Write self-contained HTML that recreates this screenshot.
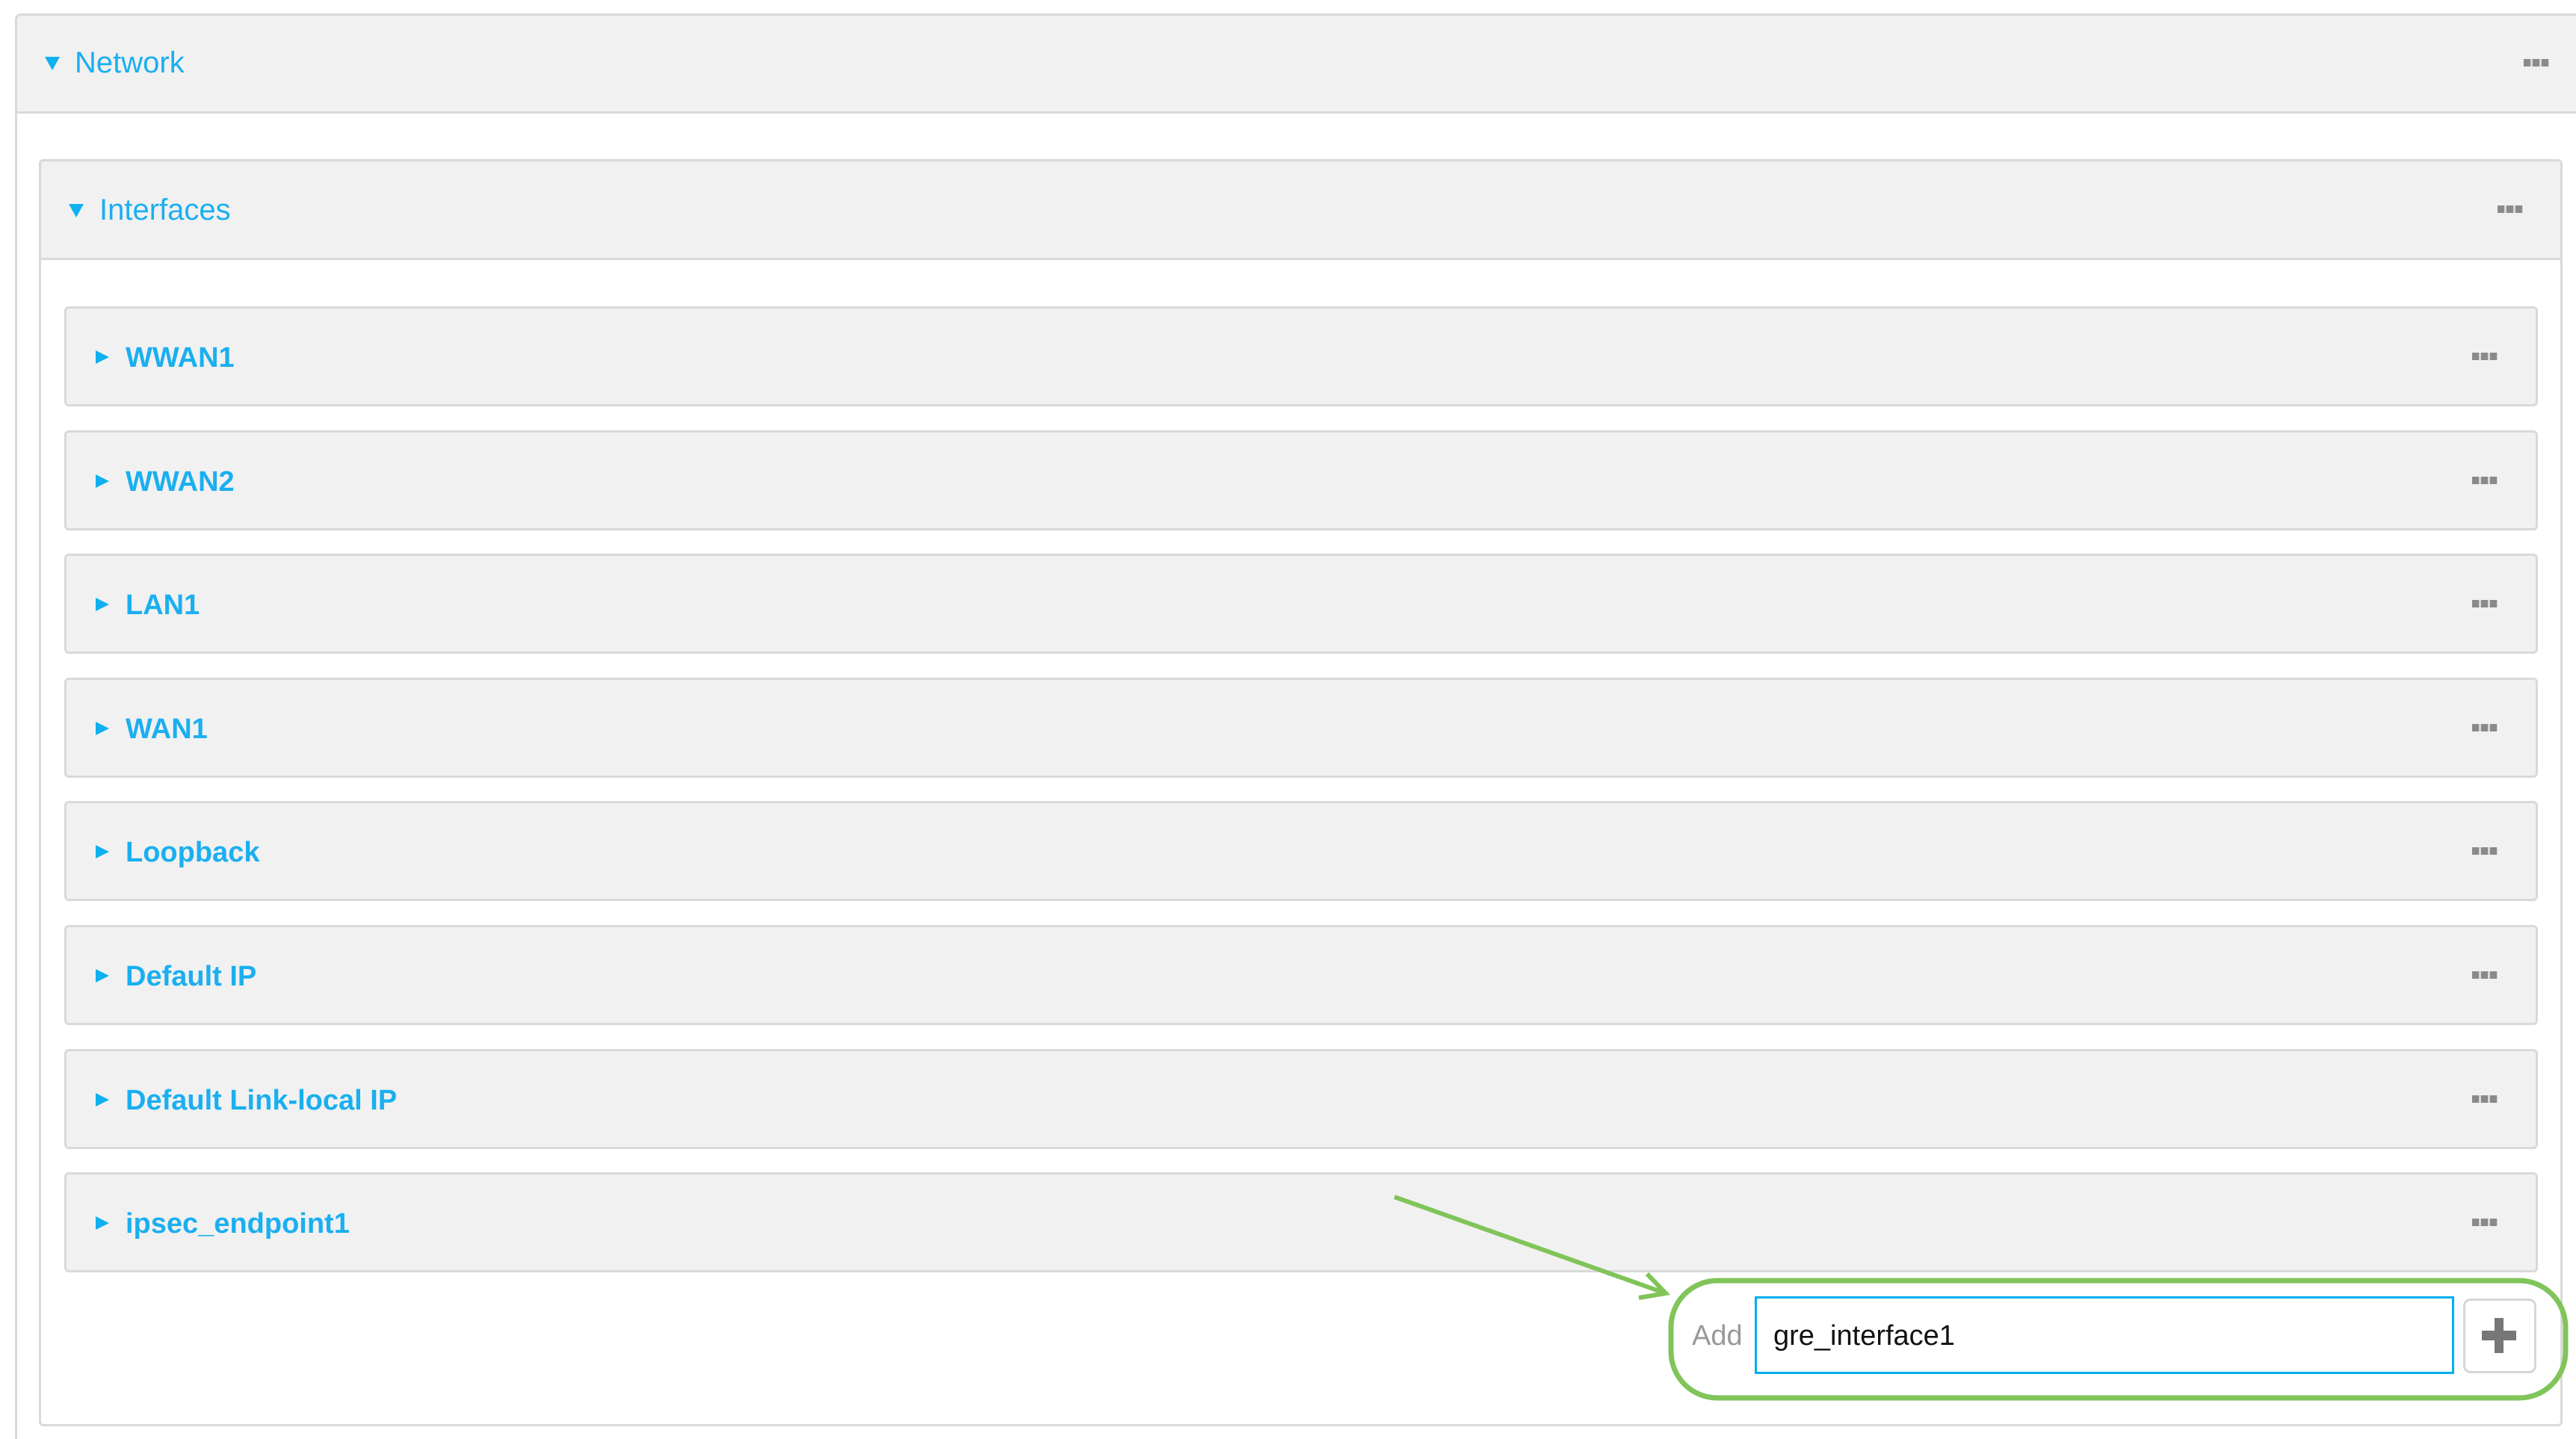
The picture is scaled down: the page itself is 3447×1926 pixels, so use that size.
<!DOCTYPE html>
<html><head><meta charset="utf-8"><style>
html,body{margin:0;padding:0;background:#fff;width:3447px;height:1926px;overflow:hidden;position:relative;font-family:"Liberation Sans",sans-serif}
.box{position:absolute;box-sizing:border-box;border:3px solid #d9d9d9;border-radius:6px}
.hdr{position:absolute;box-sizing:border-box;background:#f1f1f1;border:3px solid #d9d9d9}
.t{position:absolute;color:#1aaff0;font-size:40px;line-height:40px;white-space:nowrap}
.r{font-weight:bold;font-size:38px}
.tri{position:absolute;width:0;height:0}
.dn{border-left:10px solid transparent;border-right:10px solid transparent;border-top:18px solid #10b0f0}
.rt{border-top:9px solid transparent;border-bottom:9px solid transparent;border-left:18px solid #10b0f0}
.dots{position:absolute;width:34px;height:10px;background:repeating-linear-gradient(90deg,#8a8a8a 0 9px,#d8d8d8 9px 12px)}
</style></head><body>
<!-- Network -->
<div class="box" style="left:20px;top:18px;width:3460px;height:2000px;border-radius:8px 0 0 0"></div>
<div class="hdr" style="left:20px;top:18px;width:3460px;height:134px;border-radius:8px 0 0 0"></div>
<div class="tri dn" style="left:60px;top:76px"></div>
<div class="t" style="left:100px;top:64px">Network</div>
<div class="dots" style="left:3377px;top:79px"></div>
<!-- Interfaces -->
<div class="box" style="left:52px;top:213px;width:3377px;height:1696px"></div>
<div class="hdr" style="left:52px;top:213px;width:3377px;height:135px;border-radius:6px 6px 0 0"></div>
<div class="tri dn" style="left:92px;top:273px"></div>
<div class="t" style="left:133px;top:261px">Interfaces</div>
<div class="dots" style="left:3342px;top:275px"></div>
<!-- rows -->
<div class="hdr" style="left:86px;top:410px;width:3310px;height:134px;border-radius:6px"></div>
<div class="tri rt" style="left:128px;top:469px"></div><div class="t r" style="left:168px;top:459px">WWAN1</div><div class="dots" style="left:3308px;top:472px"></div>
<div class="hdr" style="left:86px;top:576px;width:3310px;height:134px;border-radius:6px"></div>
<div class="tri rt" style="left:128px;top:635px"></div><div class="t r" style="left:168px;top:625px">WWAN2</div><div class="dots" style="left:3308px;top:638px"></div>
<div class="hdr" style="left:86px;top:741px;width:3310px;height:134px;border-radius:6px"></div>
<div class="tri rt" style="left:128px;top:800px"></div><div class="t r" style="left:168px;top:790px">LAN1</div><div class="dots" style="left:3308px;top:803px"></div>
<div class="hdr" style="left:86px;top:907px;width:3310px;height:134px;border-radius:6px"></div>
<div class="tri rt" style="left:128px;top:966px"></div><div class="t r" style="left:168px;top:956px">WAN1</div><div class="dots" style="left:3308px;top:969px"></div>
<div class="hdr" style="left:86px;top:1072px;width:3310px;height:134px;border-radius:6px"></div>
<div class="tri rt" style="left:128px;top:1131px"></div><div class="t r" style="left:168px;top:1121px">Loopback</div><div class="dots" style="left:3308px;top:1134px"></div>
<div class="hdr" style="left:86px;top:1238px;width:3310px;height:134px;border-radius:6px"></div>
<div class="tri rt" style="left:128px;top:1297px"></div><div class="t r" style="left:168px;top:1287px">Default IP</div><div class="dots" style="left:3308px;top:1300px"></div>
<div class="hdr" style="left:86px;top:1404px;width:3310px;height:134px;border-radius:6px"></div>
<div class="tri rt" style="left:128px;top:1463px"></div><div class="t r" style="left:168px;top:1453px">Default Link-local IP</div><div class="dots" style="left:3308px;top:1466px"></div>
<div class="hdr" style="left:86px;top:1569px;width:3310px;height:134px;border-radius:6px"></div>
<div class="tri rt" style="left:128px;top:1628px"></div><div class="t r" style="left:168px;top:1618px">ipsec_endpoint1</div><div class="dots" style="left:3308px;top:1631px"></div>
<!-- add area -->
<div style="position:absolute;left:2264px;top:1768px;font-size:38px;line-height:40px;color:#999">Add</div>
<div style="position:absolute;box-sizing:border-box;left:2348px;top:1735px;width:936px;height:104px;border:3px solid #00aeef;background:#fff"></div>
<div style="position:absolute;left:2373px;top:1768px;font-size:38px;line-height:40px;color:#111">gre_interface1</div>
<div style="position:absolute;box-sizing:border-box;left:3296px;top:1738px;width:98px;height:100px;border:3px solid #d6d6d6;border-radius:10px;background:#fff"></div>
<div style="position:absolute;left:3321px;top:1781px;width:46px;height:13px;background:#777"></div>
<div style="position:absolute;left:3338px;top:1764px;width:12px;height:47px;background:#777"></div>
<svg style="position:absolute;left:0;top:0" width="3447" height="1926">
<rect x="2236" y="1714" width="1197" height="157" rx="62" ry="62" fill="none" stroke="#80c45a" stroke-width="7"/>
<line x1="1866" y1="1602" x2="2226" y2="1730" stroke="#80c45a" stroke-width="6"/>
<polyline points="2204,1705 2229,1731 2193,1737" fill="none" stroke="#80c45a" stroke-width="6"/>
</svg>
</body></html>
